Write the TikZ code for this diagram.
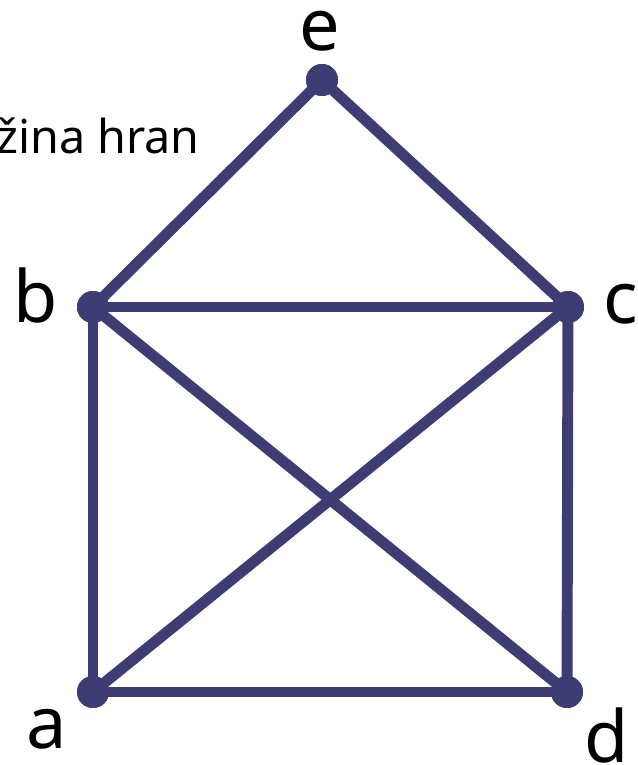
\documentclass[tikz,border=0pt]{standalone}
\usepackage{fontspec}
\setmainfont{Noto Sans}
\usetikzlibrary{positioning}
\definecolor{edgec}{HTML}{3D3D74}
\tikzset{
  vert/.style  ={circle,fill=edgec,inner sep=0pt,minimum size=24pt},
  vlab/.style  ={inner sep=0pt,anchor=base,font=\fontsize{54}{54}\selectfont},
  edge/.style  ={edgec,line width=8.2pt},
  caption/.style={inner sep=0pt,anchor=base east,font=\fontsize{35}{35}\selectfont},
}
\begin{document}
\begin{tikzpicture}[x=0.75pt,y=-0.75pt]
    % page frame
    \useasboundingbox (0,0) rectangle (638,765);
    \clip (0,0) rectangle (638,765);

    % vertices
    \node[vert] (e) at (322, 80) {};
    \node[vert] (b) at ( 93,307) {};
    \node[vert] (c) at (568,307) {};
    \node[vert] (a) at ( 93,692) {};
    \node[vert] (d) at (567,692) {};

    % edges
    \foreach \u/\v in {a/b,b/c,c/d,d/a,a/c,b/d,b/e,e/c}
      \draw[edge] (\u.center) -- (\v.center);
    \foreach \n in {e,b,c,a,d} \node[vert] at (\n) {};

    % labels
    \node[vlab] (le) at (320, 50) {e};
    \node[vlab] (lb) at ( 36,322) {b};
    \node[vlab] (lc) at (621,323) {c};
    \node[vlab] (la) at ( 47,748) {a};
    \node[vlab] (ld) at (607,762) {d};
    \node[caption] (cap) at (200,153) {žina hran};
\end{tikzpicture}
\end{document}
